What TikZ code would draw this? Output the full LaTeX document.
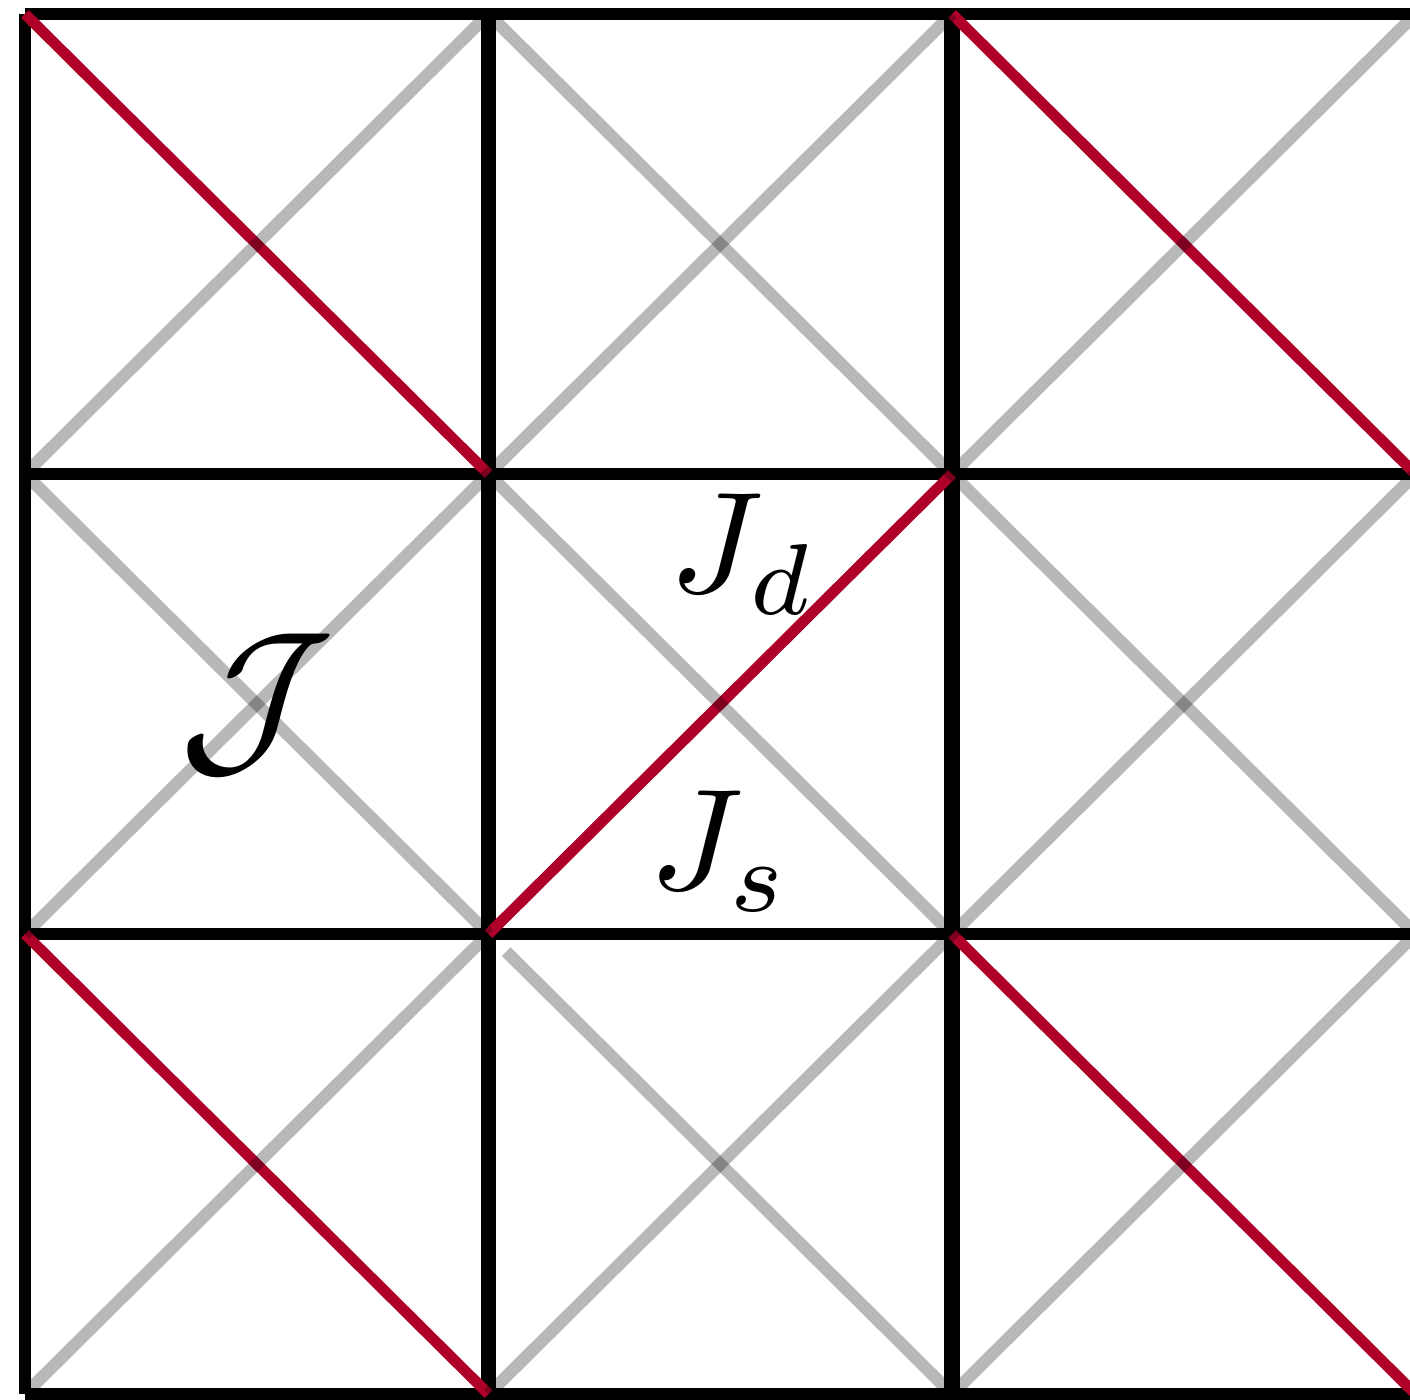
\documentclass[tikz,border=0pt]{standalone}
\definecolor{bondred}{RGB}{175,0,42}

\begin{document}
\begin{tikzpicture}[
    x=4.635cm,
    y=4.6cm,
    gridline/.style={
        draw=black,
        line width=3.2pt
    },
    innerline/.style={
        draw=black,
        line width=4.3pt
    },
    graybond/.style={
        draw=black,
        draw opacity=0.28,
        line width=3.5pt
    },
    redbond/.style={
        draw=bondred,
        line width=3.1pt
    },
    lbl/.style={
        inner sep=0pt,
        scale=4.1
    },
    biglbl/.style={
        inner sep=0pt,
        scale=5.1
    }
]

\useasboundingbox (-0.0539,-0.0109) rectangle (2.988,3.0304);
\clip (-0.0539,-0.0109) rectangle (2.988,3.0304);

% square lattice
\foreach \k in {0,...,3} {
    \draw[gridline] (0,\k) -- (3,\k);
}
\draw[gridline] (0,0) -- (0,3);
\foreach \k in {1,2} {
    \draw[innerline] (\k,0) -- (\k,3);
}
\draw[gridline] (3,0) -- (3,3);

% strong bonds
\draw[redbond] (0,3) -- (1,2);
\draw[redbond] (2,3) -- (3,2);
\draw[redbond] (1,1) -- (2,2);
\draw[redbond] (0,1) -- (1,0);
\draw[redbond] (2,1) -- (3,0);

% weak diagonals
\foreach \i/\j in {0/0,1/0,2/0,0/1,2/1,0/2,1/2,2/2} {
    \draw[graybond] (\i,\j) -- ++(1,1);
}
\foreach \i/\j in {0/1,1/1,2/1,1/2} {
    \draw[graybond] (\i,\j+1) -- ++(1,-1);
}
\draw[graybond, shorten <=0.25cm] (1,1) -- (2,0);

\node[biglbl] (calJ) at (0.5,1.5) {$\mathcal{J}$};
\node[lbl] (Jd) at (1.55,1.825) {$J_d$};
\node[lbl] (Js) at (1.50,1.18) {$J_s$};

\end{tikzpicture}
\end{document}
